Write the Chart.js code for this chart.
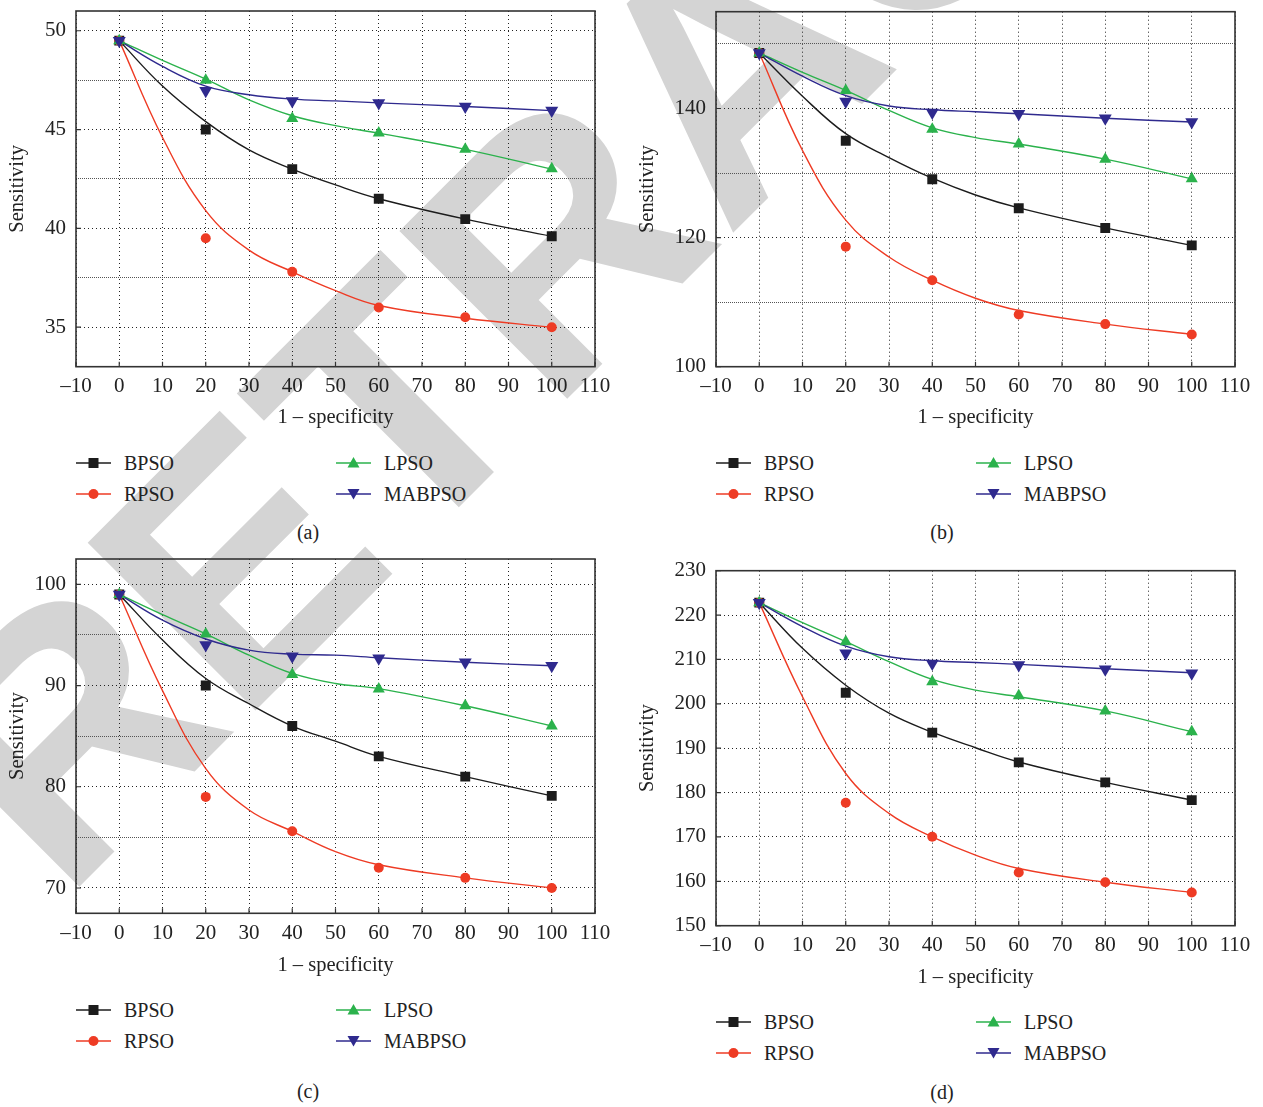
<!DOCTYPE html>
<html>
<head>
<meta charset="utf-8">
<script src="https://cdn.jsdelivr.net/npm/chart.js@4.4.0/dist/chart.umd.min.js"></script>
<style>
  html, body { margin: 0; padding: 0; background: #fff; overflow: hidden; }
  #page { position: relative; width: 1263px; height: 1107px; }
  canvas { position: absolute; }
  .wm { position: absolute; left: 0; top: 0; }
  .leg { position: absolute; font-family: 'Liberation Serif', 'DejaVu Serif', serif; font-size: 20px; color: #222; white-space: nowrap; line-height: 20px; }
  .leg svg { position: absolute; left: 0; top: 0; }
  .leg span { position: absolute; left: 48px; top: 0; }
  .cap { position: absolute; font-family: 'Liberation Serif', 'DejaVu Serif', serif; font-size: 20px; color: #222; transform: translateX(-50%); }
</style>
</head>
<body>
<div id="page">
  <svg class="wm" width="1263" height="1107">
    <text x="63" y="903" transform="rotate(-45 63 903)" font-family="Liberation Sans, Arial, sans-serif" font-weight="bold" font-size="345" fill="#d4d4d4">RETRACTED</text>
  </svg>
  <canvas id="cA"></canvas>
  <canvas id="cB"></canvas>
  <canvas id="cC"></canvas>
  <canvas id="cD"></canvas>
</div>
<script>
// x positions of the measured points and of the fitted curves
const xPts = [0, 20, 40, 60, 80, 100];
const xFit = [0, 10, 20, 30, 40, 50, 60, 80, 100];
const xTicks = [-10, 0, 10, 20, 30, 40, 50, 60, 70, 80, 90, 100, 110];
const seriesNames = ['BPSO', 'RPSO', 'LPSO', 'MABPSO'];

// (a)
const aBPSO = [49.5, 45.0, 43.0, 41.5, 40.47, 39.6];
const aRPSO = [49.5, 39.5, 37.8, 36.0, 35.5, 35.0];
const aLPSO = [49.5, 47.5, 45.56, 44.82, 44.0, 43.02];
const aMABPSO = [49.5, 46.97, 46.45, 46.34, 46.17, 45.96];
const aBPSOFit = [49.5, 47.2, 45.4, 43.97, 43.0, 42.2, 41.5, 40.47, 39.6];
const aRPSOFit = [49.5, 44.6, 40.9, 38.9, 37.8, 36.85, 36.1, 35.45, 35.0];
const aLPSOFit = [49.5, 48.5, 47.55, 46.5, 45.7, 45.2, 44.82, 44.0, 43.0];
const aMABPSOFit = [49.5, 48.2, 47.2, 46.76, 46.54, 46.45, 46.35, 46.17, 45.96];
const aYTicks = [35, 37.5, 40, 42.5, 45, 47.5, 50];
const aYLabels = [35, 40, 45, 50];

// (b)
const bBPSO = [148.6, 135.0, 129.05, 124.55, 121.5, 118.8];
const bRPSO = [148.6, 118.6, 113.4, 108.1, 106.6, 105.0];
const bLPSO = [148.6, 142.8, 136.8, 134.5, 132.15, 129.1];
const bMABPSO = [148.6, 141.1, 139.4, 139.2, 138.5, 137.9];
const bBPSOFit = [148.6, 141.9, 136.1, 132.4, 129.2, 126.6, 124.6, 121.5, 118.8];
const bRPSOFit = [148.6, 133.5, 122.7, 117.0, 113.4, 110.6, 108.7, 106.6, 105.0];
const bLPSOFit = [148.6, 145.6, 142.8, 139.7, 137.0, 135.5, 134.5, 132.15, 129.1];
const bMABPSOFit = [148.6, 145.0, 142.0, 140.4, 139.8, 139.5, 139.2, 138.5, 137.9];
const bYTicks = [100, 110, 120, 130, 140, 150];
const bYLabels = [100, 120, 140];

// (c)
const cBPSO = [99.0, 90.0, 86.0, 83.0, 81.0, 79.1];
const cRPSO = [99.0, 79.0, 75.6, 72.0, 71.0, 70.0];
const cLPSO = [99.0, 95.1, 91.1, 89.65, 88.0, 86.0];
const cMABPSO = [99.0, 94.0, 92.9, 92.7, 92.3, 91.95];
const cBPSOFit = [99.0, 94.5, 90.7, 88.2, 86.0, 84.5, 83.0, 81.0, 79.1];
const cRPSOFit = [99.0, 89.5, 81.8, 77.7, 75.6, 73.6, 72.3, 71.0, 70.0];
const cLPSOFit = [99.0, 97.0, 95.1, 93.0, 91.2, 90.2, 89.7, 88.0, 86.0];
const cMABPSOFit = [99.0, 96.45, 94.6, 93.5, 93.1, 93.0, 92.75, 92.3, 91.95];
const cYTicks = [70, 75, 80, 85, 90, 95, 100];
const cYLabels = [70, 80, 90, 100];

// (d)
const dBPSO = [222.8, 202.5, 193.5, 186.8, 182.3, 178.3];
const dRPSO = [222.8, 177.7, 170.05, 162.0, 159.8, 157.5];
const dLPSO = [222.8, 214.0, 205.0, 201.8, 198.4, 193.7];
const dMABPSO = [222.8, 211.4, 209.1, 208.75, 207.8, 206.9];
const dBPSOFit = [222.8, 212.5, 204.2, 197.9, 193.6, 190.1, 186.9, 182.3, 178.3];
const dRPSOFit = [222.8, 201.6, 184.3, 175.3, 170.0, 165.9, 162.9, 159.8, 157.5];
const dLPSOFit = [222.8, 218.3, 214.0, 209.5, 205.5, 203.1, 201.6, 198.4, 193.7];
const dMABPSOFit = [222.8, 217.4, 213.0, 210.6, 209.7, 209.3, 208.9, 207.9, 207.0];
const dYTicks = [150, 155, 160, 165, 170, 175, 180, 185, 190, 195, 200, 205, 210, 215, 220, 225, 230];
const dYLabels = [150, 160, 170, 180, 190, 200, 210, 220, 230];

const serif = "'Liberation Serif', 'DejaVu Serif', serif";
const styles = {
    BPSO:   { color: '#1c1c1c', shape: 'rect',     radius: 7,   rot: 0 },
    RPSO:   { color: '#ee3b24', shape: 'circle',   radius: 5,   rot: 0 },
    LPSO:   { color: '#2bb24c', shape: 'triangle', radius: 7,   rot: 0 },
    MABPSO: { color: '#2f2a8e', shape: 'triangle', radius: 7.5, rot: 180 }
};

// draws the closed frame and the short inward ticks
const frame = {
    id: 'frame',
    afterDatasetsDraw(chart) {
        const { ctx, chartArea: a, scales: { x, y } } = chart;
        const major = chart.options.plugins.frame.major;
        ctx.save();
        ctx.strokeStyle = '#333';
        ctx.lineWidth = 1.2;
        ctx.beginPath();
        xTicks.forEach(v => {
            const px = x.getPixelForValue(v);
            ctx.moveTo(px, a.bottom); ctx.lineTo(px, a.bottom - 5);
        });
        major.forEach(v => {
            const py = y.getPixelForValue(v);
            ctx.moveTo(a.left, py); ctx.lineTo(a.left + 5, py);
        });
        ctx.stroke();
        ctx.lineWidth = 1.6;
        ctx.strokeRect(a.left, a.top, a.right - a.left, a.bottom - a.top);
        ctx.restore();
    }
};

function addLegend(left, top) {
    const page = document.getElementById('page');
    const cols = [left, left + 260];
    const rows = [top, top + 31];
    const place = { BPSO: [0, 0], RPSO: [0, 1], LPSO: [1, 0], MABPSO: [1, 1] };
    seriesNames.forEach(name => {
        const st = styles[name];
        const div = document.createElement('div');
        div.className = 'leg';
        div.style.left = cols[place[name][0]] + 'px';
        div.style.top = (rows[place[name][1]] - 10) + 'px';
        let mark = '';
        if (st.shape === 'rect') mark = `<rect x="12.5" y="5" width="10" height="10" fill="${st.color}"/>`;
        if (st.shape === 'circle') mark = `<circle cx="17.5" cy="10" r="5" fill="${st.color}"/>`;
        if (st.shape === 'triangle' && st.rot === 0) mark = `<polygon points="17.5,4 23.5,14.5 11.5,14.5" fill="${st.color}"/>`;
        if (st.shape === 'triangle' && st.rot === 180) mark = `<polygon points="11.5,5 23.5,5 17.5,15.5" fill="${st.color}"/>`;
        div.innerHTML = `<svg width="36" height="20"><line x1="0" y1="10" x2="35" y2="10" stroke="${st.color}" stroke-width="1.3"/>${mark}</svg><span>${name}</span>`;
        page.appendChild(div);
    });
}

function addCaption(text, cx, cy) {
    const d = document.createElement('div');
    d.className = 'cap';
    d.textContent = text;
    d.style.left = cx + 'px';
    d.style.top = (cy - 12) + 'px';
    document.getElementById('page').appendChild(d);
}

function makeChart(id, box, yMin, yMax, yTicks, yLabels, pts, fits) {
    const cv = document.getElementById(id);
    cv.style.left = box.left + 'px';
    cv.style.top = box.top + 'px';
    cv.width = box.w; cv.height = box.h;
    cv.style.width = box.w + 'px'; cv.style.height = box.h + 'px';

    const datasets = [];
    ['MABPSO', 'LPSO', 'RPSO', 'BPSO'].forEach(name => {
        const st = styles[name];
        datasets.push({
            label: name,
            data: xPts.map((x, i) => ({ x: x, y: pts[name][i] })),
            showLine: false,
            pointStyle: st.shape,
            pointRadius: st.radius,
            pointRotation: st.rot,
            pointBackgroundColor: st.color,
            pointBorderColor: st.color,
            pointBorderWidth: 0
        });
    });
    ['MABPSO', 'LPSO', 'RPSO', 'BPSO'].forEach(name => {
        datasets.push({
            label: name + ' fit',
            data: xFit.map((x, i) => ({ x: x, y: fits[name][i] })),
            showLine: true,
            borderColor: styles[name].color,
            borderWidth: 1.4,
            pointRadius: 0,
            tension: 0.4,
            fill: false
        });
    });

    new Chart(cv.getContext('2d'), {
        type: 'scatter',
        data: { datasets: datasets },
        plugins: [frame],
        options: {
            responsive: false,
            animation: false,
            devicePixelRatio: 1,
            layout: { padding: { top: box.padTop, right: box.padRight, bottom: box.padBottom, left: 0 } },
            plugins: {
                legend: { display: false },
                tooltip: { enabled: false },
                frame: { major: yLabels }
            },
            scales: {
                x: {
                    type: 'linear',
                    min: -10, max: 110,
                    afterBuildTicks: s => { s.ticks = xTicks.map(v => ({ value: v })); },
                    afterFit: s => { s.height = box.xH; },
                    ticks: {
                        padding: 7.5,
                        font: { family: serif, size: 21 },
                        color: '#222',
                        callback: v => v < 0 ? '\u2013' + Math.abs(v) : String(v)
                    },
                    grid: { color: '#222', lineWidth: 1, drawTicks: false },
                    border: { display: false, dash: [1, 3] },
                    title: { display: true, text: '1 \u2013 specificity', font: { family: serif, size: 20.5 }, color: '#222', padding: 0 }
                },
                y: {
                    type: 'linear',
                    min: yMin, max: yMax,
                    afterBuildTicks: s => { s.ticks = yTicks.map(v => ({ value: v })); },
                    afterFit: s => { s.width = box.yW; s.paddingTop = 0; s.paddingBottom = 0; },
                    ticks: {
                        padding: 10,
                        font: { family: serif, size: 21 },
                        color: '#222',
                        callback: v => yLabels.includes(v) ? String(v) : ''
                    },
                    grid: {
                        color: c => yLabels.includes(c.tick && c.tick.value) ? '#222' : '#555',
                        lineWidth: 1,
                        drawTicks: false
                    },
                    border: {
                        display: false,
                        dash: c => yLabels.includes(c.tick && c.tick.value) ? [1, 3] : [1, 1]
                    },
                    title: { display: true, text: 'Sensitivity', font: { family: serif, size: 20.5 }, color: '#222', padding: { top: 5.5, bottom: 0 } }
                }
            }
        }
    });
}

makeChart('cA', { left: 0, top: 0, w: 631, h: 445, padTop: 11, padRight: 36, padBottom: 14.7, xH: 63.6, yW: 76 },
    33, 51, aYTicks, aYLabels,
    { BPSO: aBPSO, RPSO: aRPSO, LPSO: aLPSO, MABPSO: aMABPSO },
    { BPSO: aBPSOFit, RPSO: aRPSOFit, LPSO: aLPSOFit, MABPSO: aMABPSOFit });

makeChart('cB', { left: 630, top: 0, w: 633, h: 445, padTop: 11.7, padRight: 28, padBottom: 14.7, xH: 63.6, yW: 86 },
    100, 155, bYTicks, bYLabels,
    { BPSO: bBPSO, RPSO: bRPSO, LPSO: bLPSO, MABPSO: bMABPSO },
    { BPSO: bBPSOFit, RPSO: bRPSOFit, LPSO: bLPSOFit, MABPSO: bMABPSOFit });

makeChart('cC', { left: 0, top: 548, w: 631, h: 445, padTop: 11, padRight: 36, padBottom: 14.7, xH: 65, yW: 76 },
    67.5, 102.5, cYTicks, cYLabels,
    { BPSO: cBPSO, RPSO: cRPSO, LPSO: cLPSO, MABPSO: cMABPSO },
    { BPSO: cBPSOFit, RPSO: cRPSOFit, LPSO: cLPSOFit, MABPSO: cMABPSOFit });

makeChart('cD', { left: 630, top: 555, w: 633, h: 445, padTop: 15.7, padRight: 28, padBottom: 9.7, xH: 64.6, yW: 86 },
    150, 230, dYTicks, dYLabels,
    { BPSO: dBPSO, RPSO: dRPSO, LPSO: dLPSO, MABPSO: dMABPSO },
    { BPSO: dBPSOFit, RPSO: dRPSOFit, LPSO: dLPSOFit, MABPSO: dMABPSOFit });

addLegend(76, 463);
addLegend(716, 463);
addLegend(76, 1010);
addLegend(716, 1022);

addCaption('(a)', 308, 533);
addCaption('(b)', 942, 533);
addCaption('(c)', 308, 1092);
addCaption('(d)', 942, 1093);
</script>
</body>
</html>
